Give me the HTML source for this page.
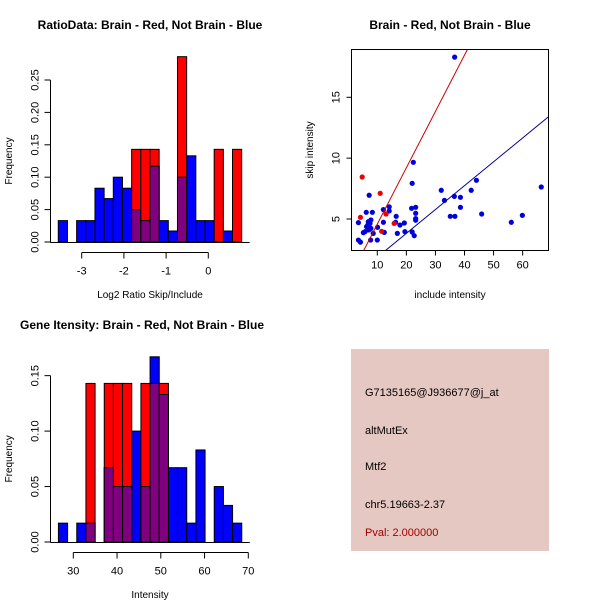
<!DOCTYPE html>
<html><head><meta charset="utf-8"><style>
body{margin:0;background:#fff}
svg{display:block;font-family:"Liberation Sans",sans-serif}
</style></head><body>
<svg id="c" width="600" height="600" viewBox="0 0 600 600">
<rect width="600" height="600" fill="#fff"/>
<g id="p1"></g>
<g id="p2"></g>
<g id="p3"></g>
<g>
<rect x="351" y="349" width="198" height="202" fill="#e5c8c2"/>
<text x="365" y="396" font-size="11">G7135165@J936677@j_at</text>
<text x="365" y="434" font-size="11">altMutEx</text>
<text x="365" y="470" font-size="11">Mtf2</text>
<text x="365" y="508" font-size="11">chr5.19663-2.37</text>
<text x="365" y="536" font-size="11" fill="#a00000">Pval: 2.000000</text>
</g>
</svg>
<script>
// Panel 1 data
const h1Start=-3.555, h1Width=0.2173;
const h1Blue=[0.033,0,0.033,0.033,0.083,0.067,0.1,0.083,0.05,0.033,0.117,0.033,0.017,0.1,0.133,0.033,0.033,0,0.017,0];
const h1Red=[0,0,0,0,0,0,0,0,0.143,0.143,0.143,0,0,0.286,0,0,0,0.143,0,0.143];
const h1XTicks=[-3,-2,-1,0];
const h1YTicks=[0,0.05,0.10,0.15,0.20,0.25];
const h1YLabels=["0.00","0.05","0.10","0.15","0.20","0.25"];
// Panel 3 data
const h3Start=26.6, h3Width=2.095;
const h3Blue=[0.017,0,0.017,0.017,0,0.067,0.05,0.05,0.1,0.05,0.167,0.133,0.067,0.067,0.017,0.083,0,0.05,0.033,0.017];
const h3Red=[0,0,0,0.143,0,0.143,0.143,0.143,0,0.143,0.143,0.143,0,0,0,0,0,0,0,0];
const h3XTicks=[30,40,50,60,70];
const h3YTicks=[0,0.05,0.10,0.15];
const h3YLabels=["0.00","0.05","0.10","0.15"];
// Panel 2 data
const blueX=[36.6,22.4,22.0,7.2,32.0,44.1,42.3,66.4,33.1,36.5,38.6,38.6,35.1,36.7,45.9,59.9,56.1,14.1,14.1,12.1,16.5,21.8,23.2,23.2,23.2,23.2,12.1,16.3,17.8,19.3,16.9,19.5,22,22.7,12.4,10,7.7,3.5,3.5,4.2,6.2,8.3,6.9,7.5,6.3,5.8,5.2,7.8,7.1,6.7,7.8,8.6,10.1];
const blueY=[18.3,9.66,7.93,6.95,7.36,8.18,7.36,7.63,6.53,6.86,6.78,5.96,5.22,5.22,5.41,5.30,4.73,6.0,5.66,5.77,5.22,5.88,5.96,5.47,5.03,4.9,4.73,4.73,4.5,4.67,3.82,3.96,3.93,3.63,3.9,3.27,3.27,4.7,3.27,3.1,5.55,5.55,4.78,4.64,4.37,3.96,3.88,4.23,4.1,4.5,4.92,3.82,4.32];
const redX=[4.8,4.2,11.0,13.0,11.5,15.8];
const redY=[8.45,5.14,7.11,5.41,3.99,4.64];
const lineA=[-0.05,-0.1], lineB=[0.463,0.196];
const scXTicks=[10,20,30,40,50,60];
const scYTicks=[5,10,15];

const NS="http://www.w3.org/2000/svg";
function mk(parent,tag,attrs,text){const e=document.createElementNS(NS,tag);for(const k in attrs)e.setAttribute(k,attrs[k]);if(text!==undefined)e.textContent=text;parent.appendChild(e);return e;}

function hist(g,start,w,blue,red,xs,ys,yl,xt,ylbl,title,xlab,base,yTop,yTopVal,xmapA,xmapB,axX,axisY,tickStartX,tickEndX,titleY){
  const X=v=>xmapA+(v-xmapB)*axX; // set below
}
function drawHist(g,o){
  const X=v=>o.x0+(v-o.v0)*o.sx, Y=v=>o.base-v*o.sy;
  for(let i=0;i<o.blue.length;i++){
    const a=X(o.start+i*o.w), b=X(o.start+(i+1)*o.w);
    if(o.blue[i]>0){const r=mk(g,'rect',{x:a,y:Y(o.blue[i]),width:b-a,height:o.blue[i]*o.sy,fill:'#0000ff',stroke:'#000','stroke-width':1});
      
      }
  }
  for(let i=0;i<o.red.length;i++){
    const a=X(o.start+i*o.w), b=X(o.start+(i+1)*o.w);
    if(o.red[i]>0){const r=mk(g,'rect',{x:a,y:Y(o.red[i]),width:b-a,height:o.red[i]*o.sy,fill:'#ff0000',stroke:'#000','stroke-width':1});
      
      }
    const m=Math.min(o.red[i],o.blue[i]);
    if(m>0){const r=mk(g,'rect',{x:a,y:Y(m),width:b-a,height:m*o.sy,fill:'#800080',stroke:'#000','stroke-width':1});
      
      }
  }
  const x0=X(o.start)-0, x1=X(o.start+o.blue.length*o.w);
  mk(g,'line',{x1:x0-8,x2:x1+8,y1:o.base+0.5,y2:o.base+0.5,stroke:'#000'});
  // y axis
  const ya=o.yAxisX;
  mk(g,'line',{x1:ya,x2:ya,y1:Y(o.yt[0]),y2:Y(o.yt[o.yt.length-1]),stroke:'#000'});
  o.yt.forEach((v,i)=>{mk(g,'line',{x1:ya-6,x2:ya,y1:Y(v),y2:Y(v),stroke:'#000'});
    const t=mk(g,'text',{x:ya-12,y:Y(v),'font-size':11,'text-anchor':'middle',transform:`rotate(-90 ${ya-12} ${Y(v)})`},o.yl[i]);
    
    });
  const xay=o.base+10.5;
  mk(g,'line',{x1:X(o.xt[0]),x2:X(o.xt[o.xt.length-1]),y1:xay,y2:xay,stroke:'#000'});
  o.xt.forEach(v=>{mk(g,'line',{x1:X(v),x2:X(v),y1:xay,y2:xay+6,stroke:'#000'});
    const t=mk(g,'text',{x:X(v),y:xay+22,'font-size':11,'text-anchor':'middle'},String(v).replace('-','-'));
    
    });
  const tt=mk(g,'text',{x:o.titleX,y:o.titleY,'font-size':12,'font-weight':'bold','text-anchor':'middle'},o.title);
  
  
  const xl=mk(g,'text',{x:o.xlX,y:o.base+56,'font-size':10,'text-anchor':'middle'},o.xlab);
  
  
  const yy=(o.base+Y(o.yt[o.yt.length-1]))/2;
  const yl=mk(g,'text',{x:12,y:yy,'font-size':10,'text-anchor':'middle',transform:`rotate(-90 12 ${yy})`},'Frequency');
  
  
}
drawHist(document.getElementById('p1'),{start:h1Start,w:h1Width,blue:h1Blue,red:h1Red,x0:208.3,v0:0,sx:42.2,base:242,sy:648,
  yAxisX:50.5,yt:h1YTicks,yl:h1YLabels,xt:h1XTicks,title:'RatioData: Brain - Red, Not Brain - Blue',titleX:150,titleY:29,xlab:'Log2 Ratio Skip/Include',xlX:150});
drawHist(document.getElementById('p3'),{start:h3Start,w:h3Width,blue:h3Blue,red:h3Red,x0:73.3,v0:30,sx:4.375,base:542,sy:1109,
  yAxisX:50.5,yt:h3YTicks,yl:h3YLabels,xt:h3XTicks,title:'Gene Itensity: Brain - Red, Not Brain - Blue',titleX:142,titleY:329,xlab:'Intensity',xlX:150});

// Scatter
(function(){
  const g=document.getElementById('p2');
  const L=351.5,R=548.5,T=49.5,B=250.5;
  const X=v=>377.3+(v-10)*2.907, Y=v=>219-(v-5)*12.17;
  const cp=mk(g,'clipPath',{id:'cp'});mk(cp,'rect',{x:L,y:T,width:R-L,height:B-T});
  const pts=mk(g,'g',{'clip-path':'url(#cp)'});
  blueX.forEach((x,i)=>{const c=mk(pts,'circle',{cx:X(x),cy:Y(blueY[i]),r:2.6,fill:'#0000dd'});
    
    });
  redX.forEach((x,i)=>{const c=mk(pts,'circle',{cx:X(x),cy:Y(redY[i]),r:2.6,fill:'#ee0000'});
    
    });
  const cols=['#cc0000','#000099'];
  lineA.forEach((a,i)=>{const x1=0,x2=80;const l=mk(pts,'line',{x1:X(x1),y1:Y(a+lineB[i]*x1),x2:X(x2),y2:Y(a+lineB[i]*x2),stroke:cols[i],'stroke-width':1});
    
    });
  mk(g,'rect',{x:L,y:T,width:R-L,height:B-T,fill:'none',stroke:'#000'});
  scXTicks.forEach(v=>{mk(g,'line',{x1:X(v),x2:X(v),y1:B,y2:B+5,stroke:'#000'});
    const t=mk(g,'text',{x:X(v),y:B+18,'font-size':11,'text-anchor':'middle'},String(v));
    
    });
  scYTicks.forEach(v=>{mk(g,'line',{x1:L-5,x2:L,y1:Y(v),y2:Y(v),stroke:'#000'});
    const t=mk(g,'text',{x:L-12,y:Y(v),'font-size':11,'text-anchor':'middle',transform:`rotate(-90 ${L-12} ${Y(v)})`},String(v));
    
    });
  const tt=mk(g,'text',{x:450,y:29,'font-size':12,'font-weight':'bold','text-anchor':'middle'},'Brain - Red, Not Brain - Blue');
  
  
  const xl=mk(g,'text',{x:450,y:298,'font-size':10,'text-anchor':'middle'},'include intensity');
  
  
  const yl=mk(g,'text',{x:313,y:150,'font-size':10,'text-anchor':'middle',transform:'rotate(-90 313 150)'},'skip intensity');
  
  
})();
</script>
</body></html>
